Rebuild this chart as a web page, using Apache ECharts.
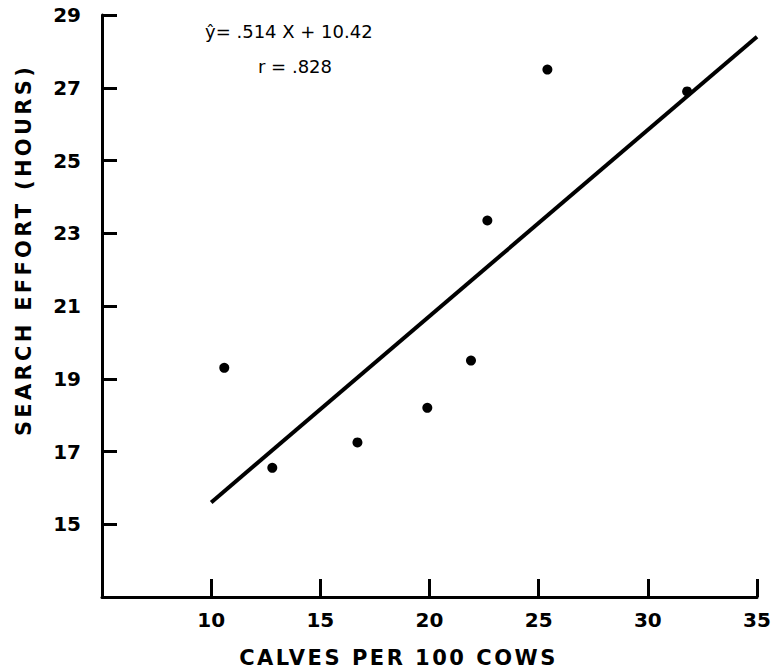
<!DOCTYPE html>
<html>
<head>
<meta charset="utf-8">
<script src="https://cdn.jsdelivr.net/npm/echarts@6/dist/echarts.min.js"></script>
<style>
html,body{margin:0;padding:0;background:#fff;}
#chart{width:772px;height:672px;}
</style>
</head>
<body>
<div id="chart"></div>
<script>
// ---- data ----
var calves = [10.6, 12.8, 16.7, 19.9, 21.9, 22.65, 25.4, 31.8];
var effort = [19.3, 16.55, 17.25, 18.2, 19.5, 23.35, 27.5, 26.9];
var fitX = [10, 35];
var fitY = [15.6, 28.4];
var xTicks = [10, 15, 20, 25, 30, 35];
var yTicks = [15, 17, 19, 21, 23, 25, 27, 29];
var xName = 'CALVES PER 100 COWS';
var yName = 'SEARCH EFFORT (HOURS)';
var eqText = 'ŷ= .514 X + 10.42';
var rText = 'r = .828';

var pts = calves.map(function (x, i) { return [x, effort[i]]; });
var fit = fitX.map(function (x, i) { return [x, fitY[i]]; });

var chart = echarts.init(document.getElementById('chart'), null, {renderer: 'svg'});
var boldFont = 'DejaVu Sans';
chart.setOption({
  animation: false,
  backgroundColor: '#fff',
  grid: {left: 102, right: 15, top: 15, bottom: 75, outerBoundsMode: 'none', containLabel: false},
  xAxis: {
    type: 'value', min: 5, max: 35,
    name: xName, nameLocation: 'middle', nameGap: 50,
    nameTextStyle: {color: '#000', fontFamily: boldFont, fontWeight: 'bold', fontSize: 21, padding: [0, 62, 0, 0]},
    splitLine: {show: false},
    axisLine: {show: true, onZero: false, lineStyle: {color: '#000', width: 3}},
    axisTick: {show: true, inside: true, length: 18, customValues: xTicks, lineStyle: {color: '#000', width: 3}},
    axisLabel: {customValues: xTicks, margin: 13, color: '#000', fontFamily: boldFont, fontWeight: 'bold', fontSize: 20}
  },
  yAxis: {
    type: 'value', min: 13, max: 29,
    name: yName, nameLocation: 'middle', nameGap: 68, nameRotate: 90,
    nameTextStyle: {color: '#000', fontFamily: boldFont, fontWeight: 'bold', fontSize: 21, padding: [0, 0, 0, 112]},
    splitLine: {show: false},
    axisLine: {show: true, onZero: false, lineStyle: {color: '#000', width: 3}},
    axisTick: {show: true, inside: true, length: 15, customValues: yTicks, lineStyle: {color: '#000', width: 3}},
    axisLabel: {customValues: yTicks, margin: 21, color: '#000', fontFamily: boldFont, fontWeight: 'bold', fontSize: 20}
  },
  graphic: [
    {type: 'text', left: 205, top: 22, style: {text: eqText, fill: '#000', font: '18px "DejaVu Sans"'}},
    {type: 'text', left: 258, top: 57, style: {text: rText, fill: '#000', font: '18px "DejaVu Sans"'}}
  ],
  series: [
    {type: 'line', data: fit, symbol: 'none', lineStyle: {color: '#000', width: 4}, z: 2},
    {type: 'scatter', data: pts, symbol: 'circle', symbolSize: 10, itemStyle: {color: '#000', opacity: 1}, z: 3}
  ]
});

// widen the axis titles like the letter-spaced originals
var spacing = {};
spacing[xName] = '2.5px';
spacing[yName] = '3.3px';
Array.prototype.forEach.call(document.querySelectorAll('#chart text'), function (t) {
  var s = spacing[t.textContent];
  if (s) { t.style.letterSpacing = s; }
});
</script>
</body>
</html>
